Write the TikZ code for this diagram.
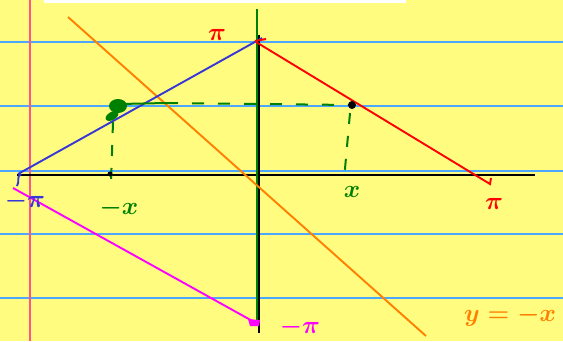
\documentclass[tikz,border=0pt]{standalone}
\usepackage{fontspec}
\setmainfont{DejaVu Sans}
\begin{document}
\begin{tikzpicture}[x=1pt,y=-1pt,
  rule/.style={draw=ruleblue,line width=1.6pt},
  lbl/.style={font=\fontsize{24}{24}\selectfont\boldmath,inner sep=0pt},
  ink/.style={line width=1.9pt},
  dsh/.style={draw=pgreen,line width=2pt,dash pattern=on 12pt off 14pt}]
\definecolor{paper}{RGB}{255,252,127}
\definecolor{ruleblue}{RGB}{77,166,255}
\definecolor{margin}{RGB}{255,85,135}
\definecolor{pblue}{RGB}{55,55,215}
\definecolor{pred}{RGB}{255,0,0}
\definecolor{porange}{RGB}{255,128,0}
\definecolor{pmag}{RGB}{255,0,255}
\definecolor{pgreen}{RGB}{0,128,0}
\useasboundingbox (0,0) rectangle (563,341);
\fill[paper] (0,0) rectangle (563,341);
\fill[white] (44,0) rectangle (406,3);
% ruled lines
\foreach \yy in {42,106,171,234,298} \draw[rule] (0,\yy) -- (563,\yy);
\draw[margin,line width=1.8pt] (30,0) -- (30,341);
% axes
\coordinate (xl) at (17,175); \coordinate (xr) at (535,175);
\coordinate (yt) at (259,35); \coordinate (yb) at (259,333);
\coordinate (gt) at (257,9); \coordinate (gb) at (257,322);
\draw[black,line width=2.4pt] (xl) -- (xr);
\draw[black,line width=2.4pt] (yt) -- (yb);
\draw[pgreen,line width=2.2pt] (gt) -- (gb);
% orange y=-x
\coordinate (ot) at (68,17); \coordinate (ob) at (426,336);
\draw[porange,ink] (ot) -- (ob);
% blue
\coordinate (bl) at (18,174); \coordinate (bt) at (262,38);
\draw[pblue,ink] (bl) -- (bt);
\draw[pblue,ink] (21,174) .. controls (16,177) and (20,181) .. (17,186);
% red
\coordinate (rt) at (256,42); \coordinate (rb) at (490,184);
\draw[pred,ink] (rt) -- (rb) -- (491,178);
\draw[pred,line width=2pt] (255,41) -- (266,39);
% magenta
\coordinate (ml) at (13,188); \coordinate (mb) at (256,323);
\draw[pmag,ink] (ml) -- (mb);
\fill[pmag] (248,319) -- (260,320) -- (259,326) -- (250,326) -- cycle;
% green dashed projections
\coordinate (pl) at (116,104); \coordinate (pr) at (352,105);
\coordinate (fl) at (111,184); \coordinate (fr) at (344,180);
\draw[dsh] (166,103) -- (pr);
\draw[dsh,dash pattern=on 11pt off 12pt] (113,122) -- (fl);
\draw[dsh,dash pattern=on 11pt off 12pt] (350,113) -- (fr);
\fill[pgreen] (118,106) ellipse (9pt and 7pt);
\fill[pgreen,rotate around={30:(112,116)}] (112,116) ellipse (7pt and 4pt);
\draw[pgreen,line width=2pt] (120,104) -- (166,103);
\fill[black] (pr) circle (4pt);
\fill[black] (110,174) circle (2.5pt);
% labels
\node[lbl,text=pblue] (lmpi) at (25,201) {$-\pi$};
\node[lbl,text=pgreen] (lmx) at (119,208) {$-x$};
\node[lbl,text=pgreen] (lx) at (352,192) {$x$};
\node[lbl,text=pred] (lpit) at (217,35) {$\pi$};
\node[lbl,text=pred] (lpi) at (494,204) {$\pi$};
\node[lbl,text=pmag] (lmpib) at (300,327) {$-\pi$};
\node[lbl,text=porange] (lyx) at (510,316) {$y=-x$};
\end{tikzpicture}
\end{document}
